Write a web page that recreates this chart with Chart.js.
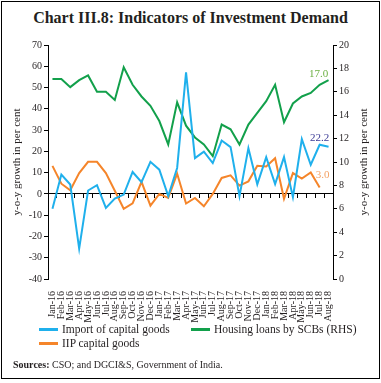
<!DOCTYPE html>
<html>
<head>
<meta charset="utf-8">
<script src="https://cdn.jsdelivr.net/npm/chart.js@4.4.1/dist/chart.umd.min.js"></script>
<style>
    html, body { margin: 0; padding: 0; background: #fff; }
    #wrap { position: relative; width: 381px; height: 383px; overflow: hidden; font-family: "Liberation Serif", serif; color: #231f20; }
    #frame { position: absolute; left: 1px; top: 1px; width: 379px; height: 378px; box-sizing: border-box; border: 1px solid #000; }
    #title { position: absolute; left: 0; top: 9px; width: 381px; text-align: center; font-weight: bold; font-size: 16px; line-height: 18px; }
    canvas { position: absolute; left: 0; top: 0; }
    .leg { position: absolute; height: 14px; display: flex; align-items: center; font-size: 11.5px; white-space: nowrap; }
    .sw { display: inline-block; width: 19px; height: 3px; margin-right: 4px; }
    #src { position: absolute; left: 13px; top: 358px; font-size: 10px; line-height: 14px; }
</style>
</head>
<body>
<div id="wrap">
    <div id="frame"></div>
    <div id="title">Chart III.8: Indicators of Investment Demand</div>
    <canvas id="myChart" width="381" height="383"></canvas>
    <div class="leg" style="left:39px;top:322px"><span class="sw" style="background:#1fb0ec"></span>Import of capital goods</div>
    <div class="leg" style="left:191px;top:322px"><span class="sw" style="background:#12a04b"></span>Housing loans by SCBs (RHS)</div>
    <div class="leg" style="left:39px;top:336px"><span class="sw" style="background:#f5852a"></span>IIP capital goods</div>
    <div id="src"><b>Sources:</b> CSO; and DGCI&amp;S, Government of India.</div>
</div>
<script>
// data (y-o-y growth, per cent)
const months = ['Jan-16', 'Feb-16', 'Mar-16', 'Apr-16', 'May-16', 'Jun-16', 'Jul-16', 'Aug-16', 'Sep-16', 'Oct-16', 'Nov-16', 'Dec-16',
    'Jan-17', 'Feb-17', 'Mar-17', 'Apr-17', 'May-17', 'Jun-17', 'Jul-17', 'Aug-17', 'Sep-17', 'Oct-17', 'Nov-17', 'Dec-17',
    'Jan-18', 'Feb-18', 'Mar-18', 'Apr-18', 'May-18', 'Jun-18', 'Jul-18', 'Aug-18']

const importCapitalGoods = [-7.0, 9.1, 4.4, -25.7, 1.6, 4.1, -6.6, -2.2, -0.3, 10.3, 5.5, 15.1,
    11.4, -1.0, 12.2, 57.1, 16.8, 19.9, 14.5, 25.1, 22.0, -1.1, 21.5, 4.5,
    17.3, 4.6, 17.3, -1.5, 25.7, 13.7, 23.1, 22.2]

const housingLoansRHS = [17.1, 17.1, 16.4, 17.0, 17.4, 16.0, 16.0, 15.3, 18.1, 16.6, 15.6, 14.8,
    13.5, 11.5, 15.1, 13.1, 12.1, 11.5, 10.5, 13.2, 12.8, 11.5, 13.2, 14.2,
    15.2, 16.6, 13.4, 15.0, 15.6, 15.9, 16.6, 17.0]

const iipCapitalGoods = [13.2, 4.8, 1.7, 9.8, 15.1, 15.1, 9.8, 1.5, -7.0, -4.4, 5.7, -5.5,
    0.0, -1.9, 9.5, -4.5, -1.9, -5.8, 0.0, 7.5, 8.7, 3.9, 5.9, 13.2,
    12.9, 16.8, -2.3, 9.8, 7.2, 10.1, 3.0, null]

const serif = "'Liberation Serif', serif"
const ink = '#231f20'
const axisTitle = 'y-o-y growth in per cent'

// value label next to the last point of each line
const endLabels = {
    id: 'endLabels',
    afterDatasetsDraw(chart) {
        const ctx = chart.ctx
        chart.data.datasets.forEach((ds, i) => {
            let last = ds.data.length - 1
            while (ds.data[last] === null) last--
            const pt = chart.getDatasetMeta(i).data[last]
            ctx.save()
            ctx.font = "11px 'Liberation Serif'"
            ctx.fillStyle = ds.endColor
            ctx.textAlign = 'center'
            ctx.textBaseline = 'middle'
            ctx.fillText(ds.data[last].toFixed(1), pt.x + ds.endDx, pt.y + ds.endDy)
            ctx.restore()
        })
    }
}

// right axis title, reading bottom to top like the left one
const rightTitle = {
    id: 'rightTitle',
    afterDraw(chart) {
        const s = chart.scales.y1
        const ctx = chart.ctx
        ctx.save()
        ctx.translate(s.right - 17, (s.top + s.bottom) / 2)
        ctx.rotate(-Math.PI / 2)
        ctx.font = "11px 'Liberation Serif'"
        ctx.fillStyle = ink
        ctx.textAlign = 'center'
        ctx.textBaseline = 'middle'
        ctx.fillText(axisTitle, 0, 0)
        ctx.restore()
    }
}

const data = {
    labels: months,
    datasets: [{
        label: 'Import of capital goods',
        data: importCapitalGoods,
        borderColor: '#1fb0ec',
        yAxisID: 'y',
        endColor: '#3b3a96', endDx: -9, endDy: -9
    }, {
        label: 'Housing loans by SCBs (RHS)',
        data: housingLoansRHS,
        borderColor: '#12a04b',
        yAxisID: 'y1',
        endColor: '#6cb043', endDx: -10, endDy: -6
    }, {
        label: 'IIP capital goods',
        data: iipCapitalGoods,
        borderColor: '#f5852a',
        yAxisID: 'y',
        endColor: '#f4a265', endDx: 3, endDy: -12
    }]
}

const sideTicks = { font: { family: serif, size: 10 }, color: ink, padding: 2 }
const sideGrid = { drawOnChartArea: false, drawTicks: true, tickLength: 4, color: '#000' }

const config = {
    type: 'line',
    data,
    options: {
        responsive: false,
        animation: false,
        layout: { padding: { top: 45, left: 6, right: 0, bottom: 0 } },
        elements: {
            line: { borderWidth: 2, tension: 0 },
            point: { radius: 0 }
        },
        plugins: { legend: { display: false }, tooltip: { enabled: false } },
        scales: {
            x: {
                type: 'category',
                position: 'bottom',
                offset: true,
                grid: { display: false },
                border: { display: false },
                ticks: { font: { family: serif, size: 10 }, color: ink, minRotation: 90, maxRotation: 90, autoSkip: false, padding: 4 },
                afterFit(s) { s.height = 104 }
            },
            x2: {
                type: 'category',
                position: { y: 0 },
                offset: true,
                grid: { offset: true, drawOnChartArea: false, drawTicks: true, tickLength: 4, color: '#000' },
                border: { display: true, color: '#000', width: 1 },
                ticks: { display: false }
            },
            y: {
                position: 'left',
                min: -40,
                max: 70,
                ticks: { ...sideTicks, stepSize: 10 },
                grid: sideGrid,
                border: { color: '#000', width: 1 },
                title: { display: true, text: axisTitle, font: { family: serif, size: 11 }, color: ink, padding: { top: 5, bottom: 0 } },
                afterFit(s) { s.width = 42 }
            },
            y1: {
                position: 'right',
                min: 0,
                max: 20,
                ticks: { ...sideTicks, stepSize: 2 },
                grid: sideGrid,
                border: { color: '#000', width: 1 },
                afterFit(s) { s.width = 48 }
            }
        }
    },
    plugins: [endLabels, rightTitle]
}

const myChart = new Chart(document.getElementById('myChart'), config)
</script>
</body>
</html>
